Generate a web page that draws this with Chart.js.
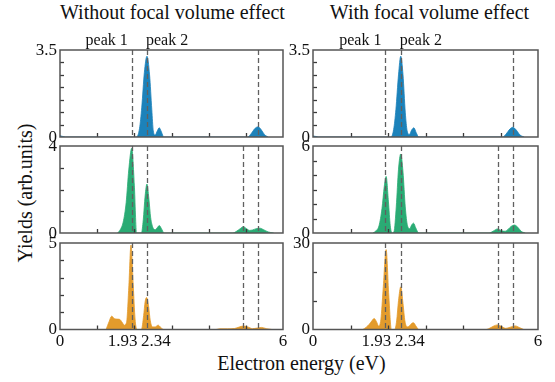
<!DOCTYPE html>
<html>
<head>
<meta charset="utf-8">
<script src="https://cdn.jsdelivr.net/npm/chart.js@4.4.0/dist/chart.umd.min.js"></script>
<style>
  body { margin: 0; background: #fff; }
  #wrap { position: relative; width: 555px; height: 382px; overflow: hidden; background: #fff;
          font-family: "Liberation Serif", "Times New Roman", serif; color: #111; }
  #wrap canvas { position: absolute; left: 0; top: 0; }
  .txt { position: absolute; white-space: nowrap; font-size: 20px; line-height: 22px; text-align: center; }
</style>
</head>
<body>
<div id="wrap">
  <div class="txt" style="left:60px; top:1px; width:223px;">Without focal volume effect</div>
  <div class="txt" style="left:317px; top:1px; width:225px;">With focal volume effect</div>
  <div class="txt" style="left:200px; top:352px; width:203px;">Electron energy (eV)</div>
  <div class="txt" style="left:-75px; top:182px; width:200px; transform:rotate(-90deg);">Yields (arb.units)</div>
  <canvas id="c1" width="555" height="382"></canvas>
  <canvas id="c2" width="555" height="382"></canvas>
  <canvas id="c3" width="555" height="382"></canvas>
  <canvas id="c4" width="555" height="382"></canvas>
  <canvas id="c5" width="555" height="382"></canvas>
  <canvas id="c6" width="555" height="382"></canvas>
</div>
<script>
// ---- data ----
// top row, blue
var topLeftEnergy  = [0, 0.08, 0.15, 2.06, 2.14, 2.2, 2.27, 2.34, 2.41, 2.47, 2.51, 2.56, 2.62, 2.67, 2.73, 2.79, 5.05, 5.15, 5.25, 5.33, 5.41, 5.5, 5.6];
var topLeftYield   = [0.05, 0.02, 0, 0, 0.35, 1.2, 2.6, 3.25, 2.5, 1.1, 0.25, 0.08, 0.25, 0.37, 0.2, 0, 0, 0.15, 0.35, 0.41, 0.3, 0.1, 0];
var topRightEnergy = [0, 0.08, 0.15, 2.08, 2.15, 2.21, 2.28, 2.34, 2.4, 2.46, 2.51, 2.57, 2.63, 2.69, 2.75, 2.82, 5.06, 5.15, 5.25, 5.33, 5.42, 5.52, 5.63];
var topRightYield  = [0.04, 0.02, 0, 0, 0.3, 1.1, 2.5, 3.25, 2.5, 1.0, 0.25, 0.1, 0.28, 0.37, 0.18, 0, 0, 0.12, 0.32, 0.39, 0.28, 0.08, 0];
// middle row, green
var midLeftEnergy  = [1.55, 1.62, 1.7, 1.78, 1.85, 1.93, 2.0, 2.06, 2.19, 2.24, 2.29, 2.34, 2.39, 2.44, 2.5, 2.56, 2.62, 2.67, 2.73, 2.8, 4.65, 4.75, 4.85, 4.93, 5.02, 5.1, 5.18, 5.28, 5.38, 5.48, 5.6, 5.75];
var midLeftYield   = [0, 0.15, 0.5, 1.4, 2.9, 3.9, 2.2, 0, 0, 0.6, 1.7, 2.25, 1.6, 0.7, 0.25, 0.15, 0.25, 0.34, 0.2, 0, 0, 0.08, 0.2, 0.29, 0.2, 0.12, 0.14, 0.2, 0.22, 0.15, 0.05, 0];
var midRightEnergy = [1.6, 1.68, 1.76, 1.84, 1.9, 1.95, 2.01, 2.06, 2.11, 2.16, 2.22, 2.28, 2.34, 2.4, 2.46, 2.52, 2.58, 2.63, 2.68, 2.74, 2.82, 4.7, 4.8, 4.92, 5.03, 5.12, 5.2, 5.28, 5.37, 5.46, 5.55, 5.66];
var midRightYield  = [0, 0.15, 0.5, 1.7, 3.2, 3.9, 2.2, 0.5, 0, 0.1, 1.8, 4.4, 5.45, 4.2, 1.8, 0.5, 0.3, 0.55, 0.68, 0.35, 0, 0, 0.12, 0.28, 0.15, 0.12, 0.25, 0.45, 0.55, 0.4, 0.12, 0];
// bottom row, orange
var botLeftEnergy  = [1.24, 1.32, 1.39, 1.47, 1.54, 1.61, 1.67, 1.73, 1.79, 1.85, 1.91, 1.97, 2.02, 2.07, 2.19, 2.25, 2.29, 2.33, 2.38, 2.43, 2.49, 2.56, 2.64, 2.71, 2.79, 4.2, 4.3, 4.5, 4.7, 4.82, 4.93, 5.05, 5.18, 5.3, 5.42, 5.55, 5.7];
var botLeftYield   = [0, 0.45, 0.77, 0.62, 0.6, 0.58, 0.42, 0.25, 0.4, 2.4, 4.88, 2.6, 0.6, 0, 0, 0.8, 1.6, 1.85, 1.4, 0.5, 0.15, 0.15, 0.25, 0.12, 0, 0, 0.04, 0.04, 0.06, 0.14, 0.2, 0.15, 0.05, 0.08, 0.12, 0.05, 0];
var botRightEnergy = [1.33, 1.42, 1.5, 1.57, 1.63, 1.69, 1.75, 1.81, 1.87, 1.95, 2.02, 2.09, 2.18, 2.23, 2.28, 2.34, 2.4, 2.45, 2.51, 2.57, 2.63, 2.68, 2.74, 2.82, 4.62, 4.72, 4.82, 4.92, 5.02, 5.14, 5.26, 5.39, 5.5, 5.62];
var botRightYield  = [0, 0.8, 1.8, 3.0, 3.8, 2.8, 1.2, 3.5, 14, 27.7, 12, 0, 0, 3, 10, 14.8, 9, 3, 0.9, 1.2, 2.1, 2.3, 1.3, 0, 0, 0.5, 1.2, 1.6, 1.1, 0.4, 0.8, 1.25, 0.7, 0];

// dashed marker energies
var topMarkers = [1.93, 2.34, 5.33];
var lowMarkers = [1.93, 2.34, 4.93, 5.33];
// axis labels
var xTickLabels = ['0', '1.93', '2.34', '6'];
var xTickValues = [0, 1.93, 2.34, 6];
var peakLabels = ['peak 1', 'peak 2'];

var blue = '#1c82ba', green = '#2aab74', orange = '#e39b2c';

// draws frame, inside ticks, dashed markers and labels for one panel
var decor = {
  id: 'decor',
  afterDatasetsDraw: function(chart, args, o) {
    var ctx = chart.ctx, a = chart.chartArea, xs = chart.scales.x, ys = chart.scales.y;
    ctx.save();
    ctx.strokeStyle = '#606060';
    ctx.lineWidth = 1.3;
    ctx.setLineDash([5, 3]);
    o.markers.forEach(function(e) {
      var px = Math.round(xs.getPixelForValue(e)) + 0.5;
      ctx.beginPath(); ctx.moveTo(px, a.top); ctx.lineTo(px, a.bottom); ctx.stroke();
    });
    ctx.setLineDash([]);

    ctx.strokeStyle = '#3a3a3a';
    ctx.lineWidth = 1.3;
    for (var v = 1; v < 6; v++) {
      var px = Math.round(xs.getPixelForValue(v)) + 0.5;
      ctx.beginPath(); ctx.moveTo(px, a.bottom); ctx.lineTo(px, a.bottom - 4); ctx.stroke();
    }
    for (var w = o.yStep; w < o.yMax - 1e-9; w += o.yStep) {
      var py = Math.round(ys.getPixelForValue(w)) + 0.5;
      ctx.beginPath(); ctx.moveTo(a.left, py); ctx.lineTo(a.left + 4, py); ctx.stroke();
    }

    ctx.strokeStyle = '#555';
    ctx.lineWidth = 1.5;
    ctx.strokeRect(a.left, a.top, a.right - a.left, a.bottom - a.top);

    ctx.fillStyle = '#111';
    ctx.font = '17px "Liberation Serif"';
    ctx.textAlign = 'right';
    ctx.fillText(o.yTop, a.left - 3, ys.getPixelForValue(o.yMax) + 4.5);
    ctx.fillText('0', a.left - 3, ys.getPixelForValue(0) + 4.5);

    if (o.xLabels) {
      ctx.textAlign = 'center';
      var shift = [0, -9, 9, 0];
      xTickValues.forEach(function(e, i) {
        ctx.fillText(xTickLabels[i], xs.getPixelForValue(e) + shift[i], a.bottom + 16.5);
      });
    }
    if (o.peaks) {
      ctx.font = '16px "Liberation Serif"';
      ctx.textAlign = 'right';
      ctx.fillText(peakLabels[0], xs.getPixelForValue(1.93) - 4, a.top - 5);
      ctx.textAlign = 'left';
      ctx.fillText(peakLabels[1], xs.getPixelForValue(2.34) - 1, a.top - 5);
    }
    ctx.restore();
  }
};

function makePanel(id, energies, yields, color, box, yMax, yStep, yTop, markers, xLabels, peaks) {
  var pts = energies.map(function(e, i) { return { x: e, y: yields[i] }; });
  new Chart(document.getElementById(id), {
    type: 'line',
    data: {
      datasets: [{
        data: pts,
        borderColor: color,
        backgroundColor: color,
        borderWidth: 0.8,
        fill: 'origin',
        pointRadius: 0,
        cubicInterpolationMode: 'monotone'
      }]
    },
    options: {
      responsive: false,
      animation: false,
      events: [],
      layout: { padding: { left: box[0], top: box[1], right: 555 - box[2], bottom: 382 - box[3] } },
      plugins: {
        legend: { display: false },
        tooltip: { enabled: false },
        decor: { markers: markers, yMax: yMax, yStep: yStep, yTop: yTop, xLabels: xLabels, peaks: peaks }
      },
      scales: {
        x: { type: 'linear', min: 0, max: 6, display: false },
        y: { min: 0, max: yMax, display: false }
      }
    },
    plugins: [decor]
  });
}

makePanel('c1', topLeftEnergy, topLeftYield, blue, [60, 50, 283, 137], 3.5, 0.5, '3.5', topMarkers, false, true);
makePanel('c2', topRightEnergy, topRightYield, blue, [313, 50, 538, 137], 3.5, 0.5, '3.5', topMarkers, false, true);
makePanel('c3', midLeftEnergy, midLeftYield, green, [60, 146, 283, 233], 4, 1, '4', lowMarkers, false, false);
makePanel('c4', midRightEnergy, midRightYield, green, [313, 146, 538, 233], 6, 1, '6', lowMarkers, false, false);
makePanel('c5', botLeftEnergy, botLeftYield, orange, [60, 243, 283, 329.5], 5, 1, '5', lowMarkers, true, false);
makePanel('c6', botRightEnergy, botRightYield, orange, [313, 243, 538, 329.5], 30, 10, '30', lowMarkers, true, false);
</script>
</body>
</html>
